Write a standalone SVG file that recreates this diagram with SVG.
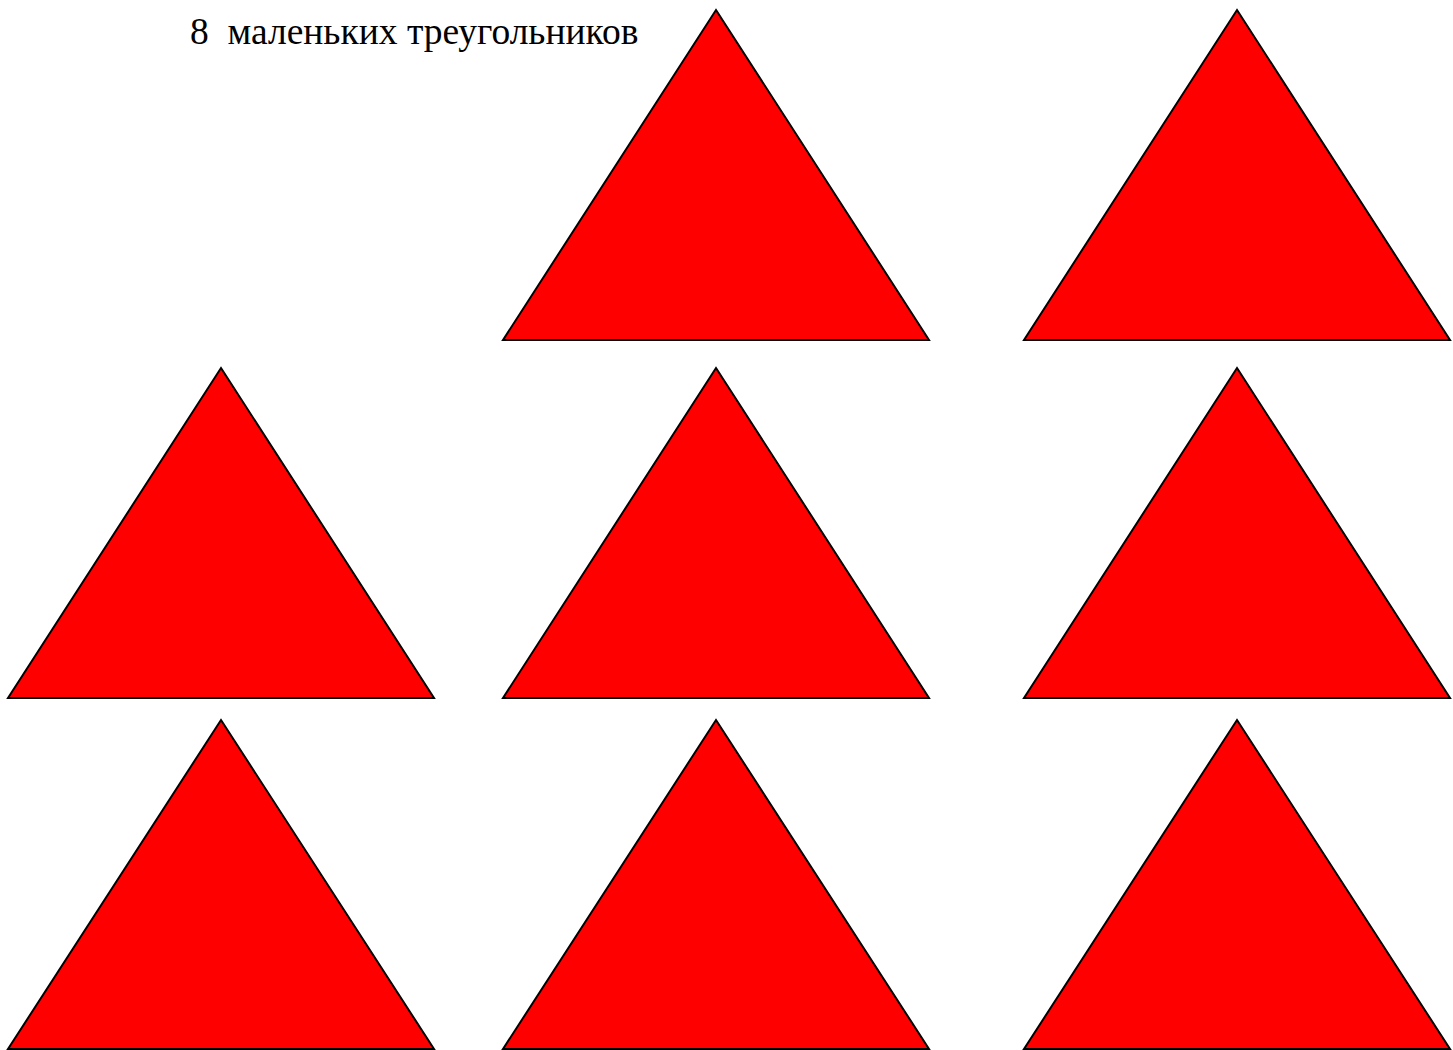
<svg xmlns="http://www.w3.org/2000/svg" width="1453" height="1050" viewBox="0 0 1453 1050">
<style>
.tri{fill:#ff0000;stroke:#000;stroke-width:2;stroke-linejoin:miter}
.lbl{font-family:"Liberation Serif","Times New Roman",serif;font-size:37.5px;fill:#000;white-space:pre}
</style>
<rect width="1453" height="1050" fill="#fff"/>
<text class="lbl" x="190" y="44" xml:space="preserve">8  маленьких треугольников</text>
<g id="t1"><polygon class="tri" points="716,10 929,340 503,340"/></g>
<g id="t2"><polygon class="tri" points="1237,10 1450,340 1024,340"/></g>
<g id="t3"><polygon class="tri" points="221,368 434,698 8,698"/></g>
<g id="t4"><polygon class="tri" points="716,368 929,698 503,698"/></g>
<g id="t5"><polygon class="tri" points="1237,368 1450,698 1024,698"/></g>
<g id="t6"><polygon class="tri" points="221,720 434,1049 8,1049"/></g>
<g id="t7"><polygon class="tri" points="716,720 929,1049 503,1049"/></g>
<g id="t8"><polygon class="tri" points="1237,720 1450,1049 1024,1049"/></g>
<g id="connectors"/>
</svg>
